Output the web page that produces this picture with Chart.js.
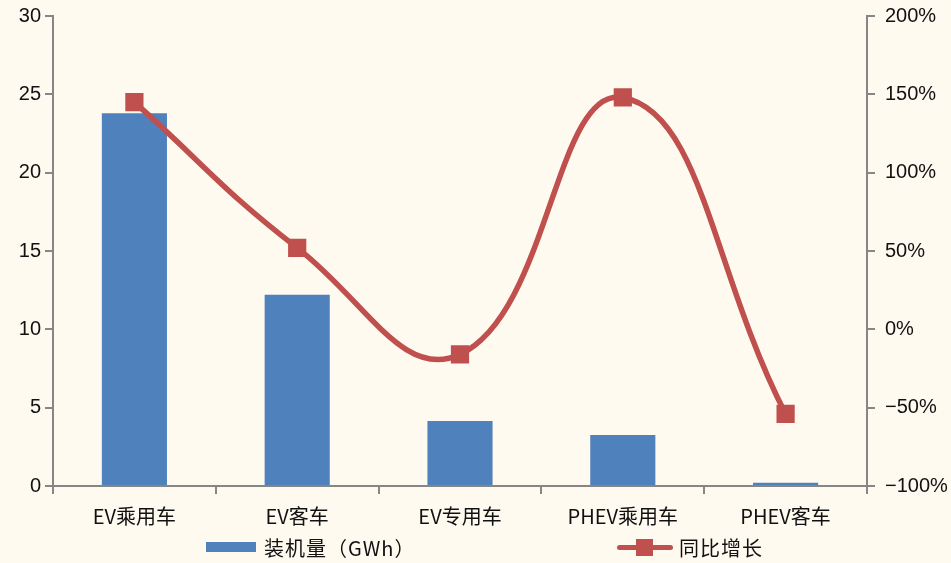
<!DOCTYPE html>
<html>
<head>
<meta charset="utf-8">
<script src="https://cdn.jsdelivr.net/npm/chart.js@4/dist/chart.umd.min.js"></script>
<style>
  html, body { margin:0; padding:0; background:#FEFAF0; }
  #wrap { position:relative; width:951px; height:563px; }
  #legend { position:absolute; left:0; top:533px; width:951px; height:28px;
            font-family:"Noto Sans CJK SC", sans-serif; font-size:20px; color:#111; }
  .lg { position:absolute; top:0; display:flex; align-items:center; height:28px; letter-spacing:1px; }
</style>
</head>
<body>
<div id="wrap">
  <canvas id="chart" width="951" height="563"></canvas>
  <div id="legend">
    <div class="lg" style="left:206px;">
      <span style="display:inline-block;width:50px;height:10px;background:#4F81BD;margin-right:8px;"></span>
      <span>装机量（GWh）</span>
    </div>
    <div class="lg" style="left:617px;">
      <span style="position:relative;display:inline-block;width:56px;height:20px;margin-right:6px;">
        <span style="position:absolute;left:0;top:8px;width:56px;height:5px;border-radius:3px;background:#C0504D;"></span>
        <span style="position:absolute;left:19px;top:2px;width:17px;height:17px;background:#C0504D;"></span>
      </span>
      <span>同比增长</span>
    </div>
  </div>
</div>
<script>
// 類別與數值
const categories = ['EV乘用车', 'EV客车', 'EV专用车', 'PHEV乘用车', 'PHEV客车'];
const capacity   = [23.8, 12.2, 4.15, 3.25, 0.2];   // 装机量 GWh
const growth     = [145, 52, -16, 148, -54];        // 同比增长 %
const leftTicks  = [0, 5, 10, 15, 20, 25, 30];
const rightTicks = [-100, -50, 0, 50, 100, 150, 200];

const AXIS = '#868686';
const tickFont = { family: '"Liberation Sans", Arial, sans-serif', size: 20 };

new Chart(document.getElementById('chart'), {
  data: {
    labels: categories,
    datasets: [
      {
        type: 'line',
        label: '同比增长',
        data: growth,
        yAxisID: 'y1',
        borderColor: '#C0504D',
        backgroundColor: '#C0504D',
        borderWidth: 5.5,
        tension: 0.45,
        pointStyle: 'rect',
        pointRadius: 9,
        pointHoverRadius: 9,
        order: 0
      },
      {
        type: 'bar',
        label: '装机量（GWh）',
        data: capacity,
        yAxisID: 'y',
        backgroundColor: '#4F81BD',
        barPercentage: 0.4,
        categoryPercentage: 1,
        order: 1
      }
    ]
  },
  options: {
    responsive: false,
    animation: false,
    layout: { padding: { top: 16, left: 0, right: 0, bottom: 0 } },
    plugins: { legend: { display: false }, tooltip: { enabled: false } },
    scales: {
      x: {
        grid: { display: true, drawOnChartArea: false, drawTicks: true, tickLength: 8, color: AXIS, lineWidth: 2 },
        border: { color: AXIS, width: 2 },
        ticks: { color: '#111', padding: 10, font: { family: '"Noto Sans CJK SC", sans-serif', size: 20 } },
        afterFit: s => { s.height = 77; s.paddingLeft = 0; s.paddingRight = 0; }
      },
      y: {
        position: 'left',
        min: 0, max: 30,
        afterBuildTicks: s => { s.ticks = leftTicks.map(v => ({ value: v })); },
        grid: { drawOnChartArea: false, drawTicks: true, tickLength: 8, color: AXIS, lineWidth: 2 },
        border: { color: AXIS, width: 2 },
        ticks: { color: '#111', padding: 4, font: tickFont },
        afterFit: s => { s.width = 53; s.paddingTop = 0; s.paddingBottom = 0; }
      },
      y1: {
        position: 'right',
        min: -100, max: 200,
        afterBuildTicks: s => { s.ticks = rightTicks.map(v => ({ value: v })); },
        grid: { drawOnChartArea: false, drawTicks: true, tickLength: 8, color: AXIS, lineWidth: 2 },
        border: { color: AXIS, width: 2 },
        ticks: { color: '#111', padding: 10, font: tickFont, callback: v => (v < 0 ? '\u2212' + (-v) : v) + '%' },
        afterFit: s => { s.width = 84; s.paddingTop = 0; s.paddingBottom = 0; }
      }
    }
  }
});
</script>
</body>
</html>
